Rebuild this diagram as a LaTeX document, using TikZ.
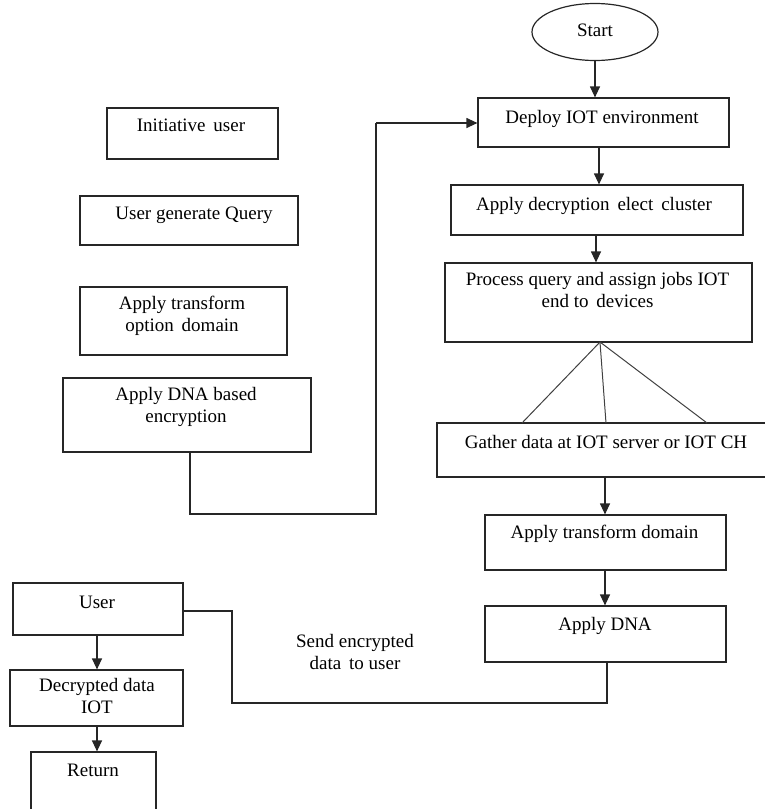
\documentclass[tikz,border=0pt]{standalone}
\usepackage{fontspec}
\setmainfont{Liberation Serif}
\usetikzlibrary{arrows.meta,shapes.geometric}
\begin{document}
\begin{tikzpicture}[x=1pt,y=-1pt,
  box/.style={draw=black!85, line width=1.2pt, rectangle, inner sep=0pt},
  txt/.style={font=\fontsize{19}{22}\selectfont, align=center, inner sep=0pt},
  flow/.style={draw=black!85, line width=1.2pt},
  arr/.style={flow, -{Triangle[length=11pt,width=10pt]}},
  fan/.style={draw=black!75, line width=1pt}]
\useasboundingbox (0,0) rectangle (765,809);
\clip (0,0) rectangle (765,809);

% right column
\node[draw=black!85, line width=1.2pt, ellipse, minimum width=126pt, minimum height=57pt, inner sep=0pt,
      font=\fontsize{19}{22}\selectfont] (start) at (595,32) {Start\strut};
\node[box, minimum width=251pt, minimum height=49pt] (deploy) at (603.5,122.5) {};
\node[txt] (deployT) at (602,119.5) {Deploy IOT environment\strut};
\node[box, minimum width=292pt, minimum height=50pt] (decrypt) at (597,210) {};
\node[txt] (decryptT) at (594,206.5) {Apply decryption\, elect\, cluster\strut};
\node[box, minimum width=307pt, minimum height=79pt] (process) at (598.5,302.5) {};
\node[txt] (processT) at (597.5,292.5) {Process query and assign jobs IOT\strut\\end to\, devices\strut};
\node[box, minimum width=333pt, minimum height=54pt] (gather) at (603.5,450) {};
\node[txt] (gatherT) at (606,444.5) {Gather data at IOT server or IOT CH\strut};
\node[box, minimum width=241pt, minimum height=55pt] (transform) at (605.5,542.5) {};
\node[txt] (transformT) at (604.5,534.5) {Apply transform domain\strut};
\node[box, minimum width=241pt, minimum height=56pt] (dna) at (605.5,634) {};
\node[txt] (dnaT) at (605,626.5) {Apply DNA\strut};

% left column
\node[box, minimum width=171pt, minimum height=51pt] (init) at (192.5,133.5) {};
\node[txt] (initT) at (191,127.5) {Initiative\, user\strut};
\node[box, minimum width=218pt, minimum height=49pt] (query) at (189,220.5) {};
\node[txt] (queryT) at (194,215.5) {User generate Query\strut};
\node[box, minimum width=207pt, minimum height=68pt] (tod) at (183.5,321) {};
\node[txt] (todT) at (182,316) {Apply transform\strut\\option\, domain\strut};
\node[box, minimum width=248pt, minimum height=74pt] (dnaenc) at (187,415) {};
\node[txt] (dnaencT) at (186,407.5) {Apply DNA based\strut\\encryption\strut};

% bottom left
\node[box, minimum width=170pt, minimum height=52pt] (user) at (98,609) {};
\node[txt] (userT) at (97,604.5) {User\strut};
\node[box, minimum width=173pt, minimum height=56pt] (dec) at (96.5,698) {};
\node[txt] (decT) at (97,698.5) {Decrypted data\strut\\IOT\strut};
\node[box, minimum width=125pt, minimum height=70pt] (ret) at (93.5,787) {};
\node[txt] (retT) at (93,772.5) {Return\strut};

\node[txt] (send) at (355,654) {Send encrypted\strut\\data\, to user\strut};

% connectors
\coordinate (c1) at (190,514);
\coordinate (c2) at (376,514);
\coordinate (c3) at (376,123);
\draw[flow] (dnaenc.south -| c1) -- (c1) -- (c2) -- (c3);
\draw[arr] (c3) -- (c3 -| deploy.west);

\draw[arr] (start.south) -- (start.south |- deploy.north);
\coordinate (a1) at (599,0);
\draw[arr] (deploy.south -| a1) -- (decrypt.north -| a1);
\coordinate (a2) at (596,0);
\draw[arr] (decrypt.south -| a2) -- (process.north -| a2);

\coordinate (f0) at (600,342);
\coordinate (f1) at (522,423);
\coordinate (f2) at (606,423);
\coordinate (f3) at (707,423);
\draw[fan] (f0) -- (f1);
\draw[fan] (f0) -- (f2);
\draw[fan] (f0) -- (f3);

\coordinate (a3) at (605,0);
\draw[arr] (gather.south -| a3) -- (transform.north -| a3);
\draw[arr] (transform.south -| a3) -- (dna.north -| a3);

\coordinate (d1) at (607,703);
\coordinate (d2) at (232,703);
\coordinate (d3) at (232,611);
\draw[flow] (dna.south -| d1) -- (d1) -- (d2) -- (d3) -- (d3 -| user.east);

\coordinate (a4) at (97,0);
\draw[arr] (user.south -| a4) -- (dec.north -| a4);
\draw[arr] (dec.south -| a4) -- (ret.north -| a4);
\end{tikzpicture}
\end{document}
